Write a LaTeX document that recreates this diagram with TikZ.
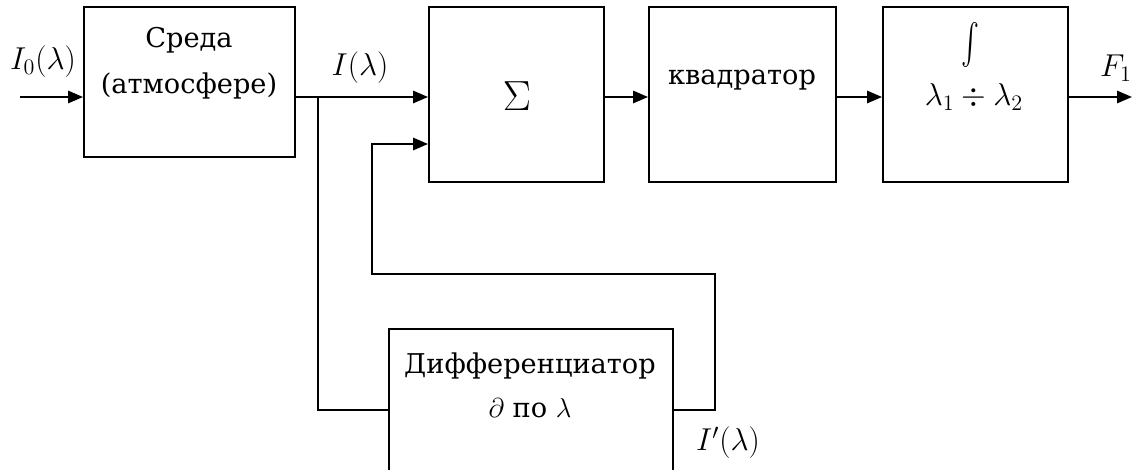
\RequirePackage{fix-cm}
\documentclass[tikz,border=0pt]{standalone}
\usepackage{fontspec}
\setmainfont{DejaVu Serif}
\usepackage{amsmath,amssymb}
\usetikzlibrary{arrows.meta}
\usetikzlibrary{fit}

\tikzset{
  block/.style={draw, line width=1.1pt, inner sep=0pt},
  caption/.style={font=\fontsize{15.5}{26}\selectfont, align=center, inner sep=0pt},
  mathlbl/.style={font=\fontsize{18}{20}\selectfont, inner sep=0pt},
  sig/.style={line width=1.1pt, -{Triangle[length=8.5pt,width=7pt]}},
  wire/.style={line width=1.1pt}
}

\begin{document}
\begin{tikzpicture}[x=0.02cm,y=-0.02cm]
  \clip
    (0,0)
    rectangle
    (1134,470);
  \node[block, fit={(84,7) (295,157)}] (env) {};
  \node[block, fit={(429,7) (604,182)}] (sum) {};
  \node[block, fit={(649,7) (836,182)}] (sq) {};
  \node[block, fit={(883,7) (1068,182)}] (integ) {};
  \node[block, fit={(389,329) (673,520)}] (diff) {};

  \node[caption] (envtxt) at (189,63) {Среда\\(атмосфере)};
  \node[caption, font=\fontsize{24}{24}\selectfont] (sumtxt) at (517,96) {$\Sigma$};
  \node[caption] (sqtxt) at (742,80) {квадратор};
  \node[caption] (inttxt) at (970,45) {\resizebox*{0.36cm}{0.9cm}{$\int$}};
  \node[mathlbl] (limtxt) at (974,97) {$\lambda_1 \div \lambda_2$};
  \node[caption, font=\fontsize{15.5}{25}\selectfont] (difftxt) at (530,385) {Дифференциатор\\$\partial$ по $\lambda$};

  \coordinate (src) at (20,97);
  \coordinate (fork) at (318,97);
  \coordinate (tap) at (318,410);
  \coordinate (ret) at (715,274);
  \coordinate (back) at (372,144);
  \coordinate (out) at (1132,97);

  \draw[sig]
    (src)
    --
    (src -| env.west);
  \draw[wire]
    (env.east |- fork)
    --
    (fork);
  \draw[sig]
    (fork)
    --
    (fork -| sum.west);
  \draw[wire]
    (fork)
    --
    (tap)
    --
    (tap -| diff.west);
  \draw[sig]
    (diff.east |- tap)
    -|
    (ret)
    -|
    (back)
    --
    (back -| sum.west);
  \draw[sig]
    (sum.east |- fork)
    --
    (sq.west |- fork);
  \draw[sig]
    (sq.east |- fork)
    --
    (integ.west |- fork);
  \draw[sig]
    (integ.east |- fork)
    --
    (out);

  \node[mathlbl] (inlbl) at (43,62) {$I_0(\lambda)$};
  \node[mathlbl] (ilbl) at (360,68) {$I(\lambda)$};
  \node[mathlbl] (flbl) at (1116,68) {$F_1$};
  \node[mathlbl] (dlbl) at (728,443) {$I'(\lambda)$};
\end{tikzpicture}
\end{document}
